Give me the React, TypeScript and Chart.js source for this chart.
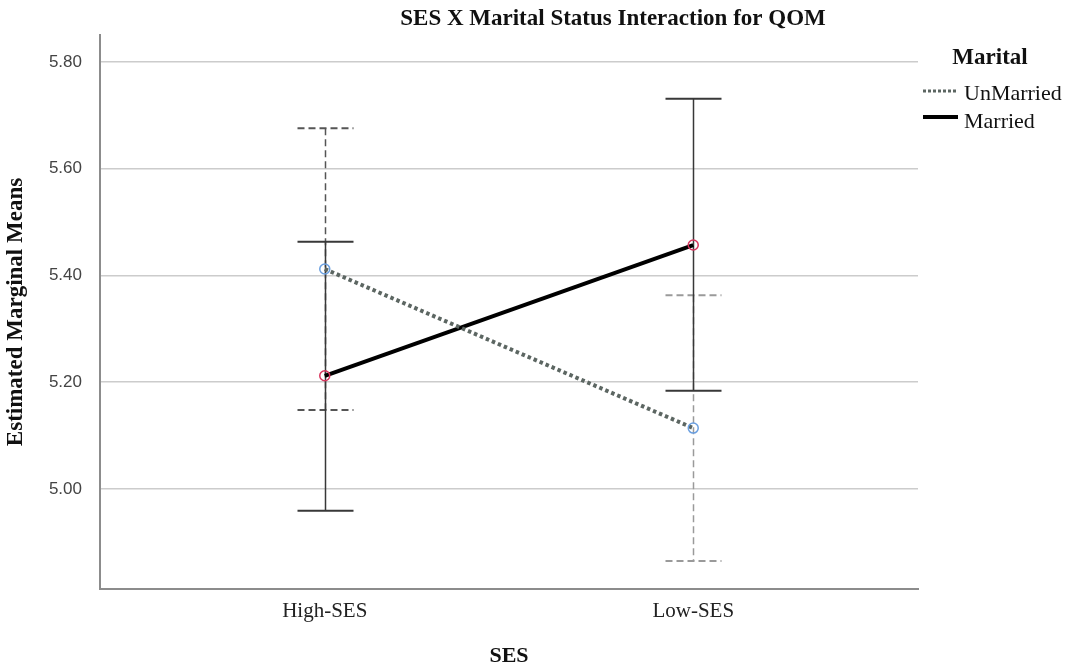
import React, { useEffect, useRef } from "react";
import { Chart, registerables } from "chart.js";

Chart.register(...registerables);

// ---- data ----
const categories = ["High-SES", "Low-SES"];
const seriesNames = ["UnMarried", "Married"];
const unmarriedMeans = [5.412, 5.114];
const unmarriedLower = [5.148, 4.865];
const unmarriedUpper = [5.676, 5.363];
const marriedMeans = [5.212, 5.457];
const marriedLower = [4.959, 5.184];
const marriedUpper = [5.463, 5.731];
const yTicks = [5.0, 5.2, 5.4, 5.6, 5.8];

const chartTitle = "SES X Marital Status Interaction for QOM";
const legendTitle = "Marital";
const xTitle = "SES";
const yTitle = "Estimated Marginal Means";

const SERIF = "'Liberation Serif', 'Times New Roman', serif";
const SANS = "'Liberation Sans', Arial, sans-serif";

const errorBars = [
  { lower: unmarriedLower, upper: unmarriedUpper, colors: ["#555555", "#9a9a9a"], dash: [7, 4] },
  { lower: marriedLower, upper: marriedUpper, colors: ["#383838", "#383838"], dash: [] as number[] },
];

const errorBarPlugin = {
  id: "errorBars",
  beforeDatasetsDraw(chart: any) {
    const { ctx, scales } = chart;
    const xs = scales.x;
    const ys = scales.y;
    const capHalf = 28;
    ctx.save();
    errorBars.forEach((eb) => {
      categories.forEach((_, i) => {
        const x = Math.round(xs.getPixelForValue(i)) + 0.5;
        const yl = ys.getPixelForValue(eb.lower[i]);
        const yu = ys.getPixelForValue(eb.upper[i]);
        ctx.strokeStyle = eb.colors[i];
        ctx.setLineDash(eb.dash);
        ctx.lineWidth = 1.5;
        ctx.beginPath();
        ctx.moveTo(x, yu);
        ctx.lineTo(x, yl);
        ctx.stroke();
        ctx.lineWidth = 2;
        ctx.beginPath();
        ctx.moveTo(x - capHalf, yu);
        ctx.lineTo(x + capHalf, yu);
        ctx.moveTo(x - capHalf, yl);
        ctx.lineTo(x + capHalf, yl);
        ctx.stroke();
      });
    });
    ctx.restore();
  },
};

const decorPlugin = {
  id: "decor",
  afterDraw(chart: any) {
    const { ctx } = chart;
    ctx.save();
    ctx.fillStyle = "#111";
    ctx.textBaseline = "alphabetic";
    // title
    ctx.font = `bold 23px ${SERIF}`;
    ctx.textAlign = "center";
    ctx.fillText(chartTitle, 613, 25);
    // legend title
    ctx.fillText(legendTitle, 990, 64);
    // legend items
    ctx.font = `22px ${SERIF}`;
    ctx.textAlign = "left";
    const rows = [
      { lineY: 91, textY: 100 },
      { lineY: 117, textY: 128 },
    ];
    chart.data.datasets.forEach((ds: any, i: number) => {
      const r = rows[i];
      ctx.strokeStyle = ds.borderColor;
      ctx.lineWidth = i === 0 ? 3 : 4;
      ctx.setLineDash(i === 0 ? [3, 2] : []);
      ctx.beginPath();
      ctx.moveTo(923, r.lineY);
      ctx.lineTo(958, r.lineY);
      ctx.stroke();
      ctx.setLineDash([]);
      ctx.fillStyle = "#111";
      ctx.fillText(ds.label, 964, r.textY);
    });
    ctx.restore();
  },
};

export default function App() {
  const ref = useRef<HTMLCanvasElement | null>(null);
  useEffect(() => {
    if (!ref.current) return;
    const chart = new Chart(ref.current, {
      type: "line",
      data: {
        datasets: [
          {
            label: seriesNames[0],
            data: unmarriedMeans.map((v, i) => ({ x: i, y: v })),
            borderColor: "#5c6662",
            borderWidth: 4,
            borderDash: [3.5, 3],
            borderCapStyle: "butt",
            pointRadius: 5,
            pointHoverRadius: 5,
            pointBorderWidth: 1.5,
            pointBorderColor: "#6a9fe0",
            pointBackgroundColor: "rgba(255,255,255,0)",
            tension: 0,
          },
          {
            label: seriesNames[1],
            data: marriedMeans.map((v, i) => ({ x: i, y: v })),
            borderColor: "#000000",
            borderWidth: 4,
            pointRadius: 5,
            pointHoverRadius: 5,
            pointBorderWidth: 1.5,
            pointBorderColor: "#d8345c",
            pointBackgroundColor: "rgba(255,255,255,0)",
            tension: 0,
          },
        ],
      },
      options: {
        animation: false,
        responsive: false,
        devicePixelRatio: 1,
        layout: { padding: { left: 0, right: 148, top: 35, bottom: 0 } },
        plugins: {
          legend: { display: false },
          title: { display: false },
          tooltip: { enabled: false },
        },
        scales: {
          x: {
            type: "linear",
            min: -0.61,
            max: 1.61,
            afterFit: (s: any) => {
              s.height = 82;
            },
            afterBuildTicks: (s: any) => {
              s.ticks = categories.map((_, i) => ({ value: i }));
            },
            grid: { display: false },
            border: { display: true, color: "#8c8c8c", width: 2 },
            ticks: {
              autoSkip: false,
              maxRotation: 0,
              padding: 2,
              color: "#222",
              font: { family: SERIF, size: 21 },
              callback: (v: any) => categories[v as number] ?? "",
            },
            title: {
              display: true,
              text: xTitle,
              color: "#111",
              font: { family: SERIF, size: 22, weight: "bold" },
              padding: { top: 0, bottom: 1 },
            },
          },
          y: {
            type: "linear",
            min: 4.8125,
            max: 5.8505,
            afterFit: (s: any) => {
              s.width = 100;
            },
            afterBuildTicks: (s: any) => {
              s.ticks = yTicks.map((v) => ({ value: v }));
            },
            grid: { color: "#cccccc", lineWidth: 1.5, drawTicks: false },
            border: { display: true, color: "#8c8c8c", width: 2 },
            ticks: {
              padding: 18,
              color: "#444",
              font: { family: SANS, size: 17 },
              callback: (v: any) => Number(v).toFixed(2),
            },
            title: {
              display: true,
              text: yTitle,
              color: "#111",
              font: { family: SERIF, size: 23, weight: "bold" },
              padding: { top: 2, bottom: 0 },
            },
          },
        },
      } as any,
      plugins: [errorBarPlugin, decorPlugin],
    });
    return () => chart.destroy();
  }, []);
  return (
    <div style={{ position: "absolute", left: 0, top: 0, width: 1066, height: 671 }}>
      <canvas ref={ref} width={1066} height={671} style={{ display: "block" }} />
    </div>
  );
}
